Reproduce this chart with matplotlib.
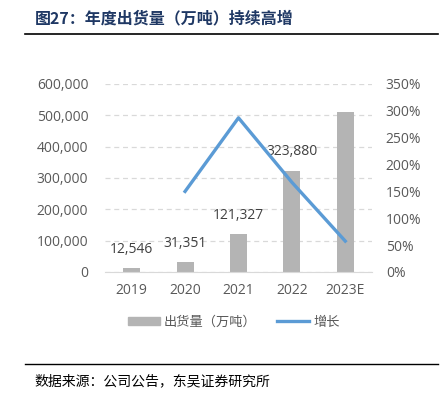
import matplotlib.pyplot as plt
from matplotlib.ticker import FuncFormatter, MultipleLocator
from matplotlib.lines import Line2D
from matplotlib.patches import Patch

plt.rcParams['font.family'] = ['Open Sans', 'Noto Sans CJK SC', 'DejaVu Sans']

# data
years = ['2019', '2020', '2021', '2022', '2023E']
shipments = [12546, 31351, 121327, 323880, 510000]
shipment_labels = ['12,546', '31,351', '121,327', '323,880', '']
growth_years = ['2020', '2021', '2022', '2023E']
growth = [1.50, 2.87, 1.67, 0.575]

bar_color = '#B4B4B4'
line_color = '#5B9BD5'
tick_color = '#595959'
grid_color = '#D9D9D9'
cjk = ['Noto Sans CJK SC', 'DejaVu Sans']

fig = plt.figure(figsize=(4.41, 3.98), dpi=100)
ax = fig.add_axes([0.238, 0.3166, 0.6055, 0.4724])

x = list(range(len(years)))
ax.bar(x, shipments, width=0.32, color=bar_color, zorder=2)
for xi, v, lab in zip(x, shipments, shipment_labels):
    if lab:
        ax.annotate(lab, (xi, v), xytext=(0, 8), textcoords='offset points',
                    ha='center', va='bottom', fontsize=10, color='#404040')

ax.set_xlim(-0.5, len(years) - 0.5)
ax.set_ylim(0, 600000)
ax.yaxis.set_major_locator(MultipleLocator(100000))
ax.yaxis.set_major_formatter(FuncFormatter(lambda v, p: f'{int(v):,}'))
ax.set_xticks(x)
ax.set_xticklabels(years)
ax.grid(axis='y', color=grid_color, linestyle=(0, (4, 3)), linewidth=0.9, zorder=0)
for s in ['top', 'right', 'left']:
    ax.spines[s].set_visible(False)
ax.spines['bottom'].set_color(grid_color)
ax.tick_params(length=0, colors=tick_color, labelsize=10)
ax.tick_params(axis='x', pad=8)
ax.tick_params(axis='y', pad=12)

ax2 = ax.twinx()
gx = [years.index(y) for y in growth_years]
ax2.plot(gx, growth, color=line_color, linewidth=2.4, zorder=3)
ax2.set_ylim(0, 3.5)
ax2.yaxis.set_major_locator(MultipleLocator(0.5))
ax2.yaxis.set_major_formatter(FuncFormatter(lambda v, p: f'{v*100:.0f}%'))
for s in ['top', 'right', 'left', 'bottom']:
    ax2.spines[s].set_visible(False)
ax2.tick_params(length=0, colors=tick_color, labelsize=10, pad=10)

handles = [Patch(color=bar_color), Line2D([0], [0], color=line_color, linewidth=2.4)]
fig.legend(handles, ['出货量（万吨）', '增长'], loc='center', bbox_to_anchor=(0.53, 0.19),
           ncol=2, frameon=False, prop={'family': cjk, 'size': 9.5},
           handlelength=2.4, handleheight=0.6,
           columnspacing=1.6, handletextpad=0.3, labelcolor=tick_color)

fig.text(0.078, 0.955, '图27：年度出货量（万吨）持续高增', fontsize=11.5, fontweight='bold',
         color='#1F3864', va='center', ha='left', family=cjk)
fig.add_artist(Line2D([0.057, 0.993], [0.915, 0.915], color='#000000', linewidth=1.2))
fig.add_artist(Line2D([0.057, 0.993], [0.085, 0.085], color='#000000', linewidth=1.0))
fig.text(0.078, 0.043, '数据来源：公司公告，东吴证券研究所', fontsize=10, color='#000000',
         va='center', ha='left', family=cjk)

fig.savefig('out.png', dpi=100)
